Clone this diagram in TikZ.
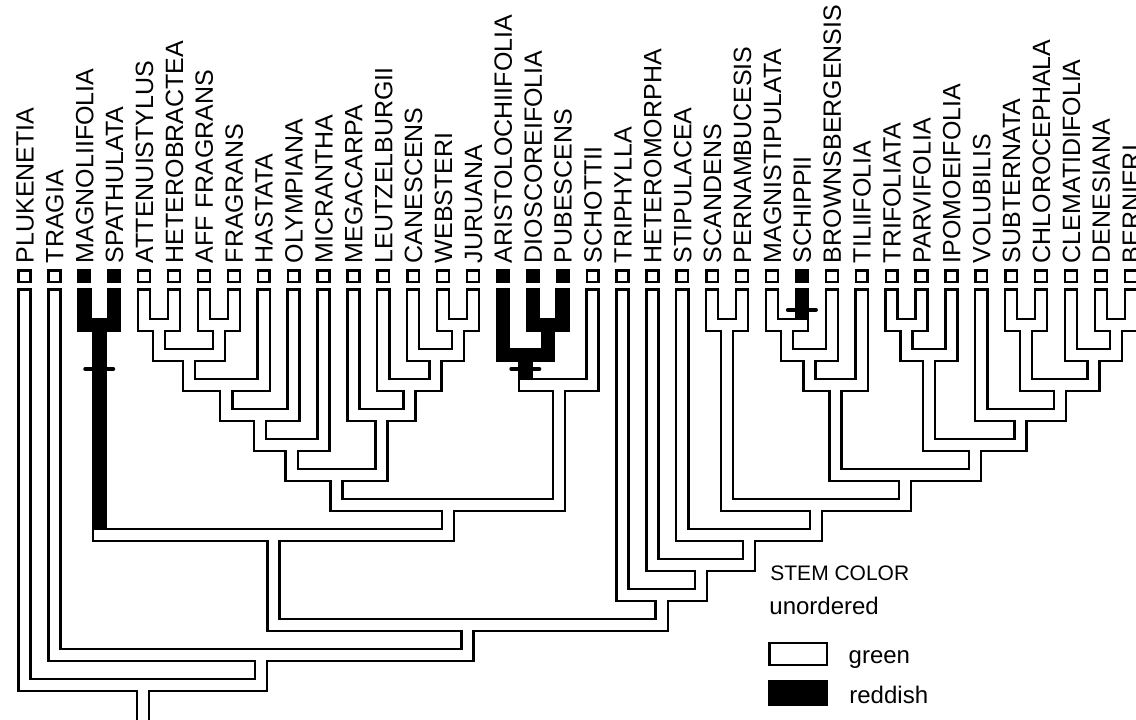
\documentclass[tikz,border=0pt]{standalone}
\usepackage{fontspec}
\setmainfont{Liberation Sans}
\begin{document}
\begin{tikzpicture}[x=0.5pt,y=-0.5pt,
    tube/.style={line width=7.25pt,line cap=rect},
    core/.style={tube,line width=4.85pt,white},
    leafbox/.style={draw,line width=1.2pt,minimum size=5.9pt,inner sep=0pt},
    taxon/.style={rotate=90,anchor=base west,inner sep=0pt,font=\fontsize{12.5}{15}\selectfont},
    change/.style={line width=2pt,line cap=round},
    legend/.style={anchor=base west,inner sep=0pt,font=\fontsize{12}{14}\selectfont}]
  \useasboundingbox (0,0) rectangle (1136,719);
  \foreach \i/\name/\f [evaluate=\i as \x using 24.5+29.9*(\i-1)] in {1/PLUKENETIA/white,
      2/TRAGIA/white, 3/MAGNOLIIFOLIA/black, 4/SPATHULATA/black, 5/ATTENUISTYLUS/white,
      6/HETEROBRACTEA/white, 7/AFF FRAGRANS/white, 8/FRAGRANS/white, 9/HASTATA/white,
      10/OLYMPIANA/white, 11/MICRANTHA/white, 12/MEGACARPA/white, 13/LEUTZELBURGII/white,
      14/CANESCENS/white, 15/WEBSTERI/white, 16/JURUANA/white, 17/ARISTOLOCHIIFOLIA/black,
      18/DIOSCOREIFOLIA/black, 19/PUBESCENS/black, 20/SCHOTTII/white, 21/TRIPHYLLA/white,
      22/HETEROMORPHA/white, 23/STIPULACEA/white, 24/SCANDENS/white, 25/PERNAMBUCESIS/white,
      26/MAGNISTIPULATA/white, 27/SCHIPPII/black, 28/BROWNSBERGENSIS/white, 29/TILIIFOLIA/white,
      30/TRIFOLIATA/white, 31/PARVIFOLIA/white, 32/IPOMOEIFOLIA/white, 33/VOLUBILIS/white,
      34/SUBTERNATA/white, 35/CHLOROCEPHALA/white, 36/CLEMATIDIFOLIA/white,
      37/DENESIANA/white, 38/BERNIERI/white} {
    \coordinate (t\i) at (\x,295.5);
    \node[leafbox,fill=\f] (box\i) at (\x,276.3) {};
    \node[taxon] (lab\i) at (\x+9,263.5) {\name};
  }
  \foreach \n/\x/\y in {n1/159.05/325, n2/218.85/325, n3/188.95/355, n4/226.33/385,
      n5/259.96/415, n6/291.73/445, n7/458.05/325, n8/435.63/355, n9/409.46/385,
      n10/381.43/415, n11/336.58/475, n12/547.75/325, n13/525.33/355, n14/558.96/385,
      n15/447.77/505, n16/99.25/325, n17/273.51/535, n18/727.15/325, n19/786.95/325,
      n20/809.38/355, n21/835.54/385, n22/906.55/325, n23/928.98/355, n24/1026.15/325,
      n25/1115.85/325, n26/1093.43/355, n27/1059.79/385, n28/1020.55/415, n29/974.76/445,
      n30/905.15/475, n31/816.15/505, n32/749.23/535, n33/700.81/565, n34/661.66/595,
      n35/467.58/625, n36/260.99/655, root/142.75/685}
    \coordinate (\n) at (\x,\y);
  \foreach \n/\l/\r in {n1/t5/t6, n2/t7/t8, n3/n1/n2, n4/n3/t9, n5/n4/t10, n6/n5/t11,
      n7/t15/t16, n8/t14/n7, n9/t13/n8, n10/t12/n9, n11/n6/n10, n12/t18/t19, n13/t17/n12,
      n14/n13/t20, n15/n11/n14, n16/t3/t4, n17/n16/n15, n18/t24/t25, n19/t26/t27,
      n20/n19/t28, n21/n20/t29, n22/t30/t31, n23/n22/t32, n24/t34/t35, n25/t37/t38,
      n26/t36/n25, n27/n24/n26, n28/t33/n27, n29/n23/n28, n30/n21/n29, n31/n18/n30,
      n32/t23/n31, n33/t22/n32, n34/t21/n33, n35/n17/n34, n36/t2/n35, root/t1/n36}
    \draw[tube] (\l) |- (\n) -| (\r);
  \draw[tube] (root) -- ++(0,50);
  \foreach \n/\l/\r in {n1/t5/t6, n2/t7/t8, n3/n1/n2, n4/n3/t9, n5/n4/t10, n6/n5/t11,
      n7/t15/t16, n8/t14/n7, n9/t13/n8, n10/t12/n9, n11/n6/n10, n15/n11/n14, n18/t24/t25,
      n20/n19/t28, n21/n20/t29, n22/t30/t31, n23/n22/t32, n24/t34/t35, n25/t37/t38,
      n26/t36/n25, n27/n24/n26, n28/t33/n27, n29/n23/n28, n30/n21/n29, n31/n18/n30,
      n32/t23/n31, n33/t22/n32, n34/t21/n33, n35/n17/n34, n36/t2/n35, root/t1/n36}
    \draw[core] (\l) |- (\n) -| (\r);
  \draw[core] (n16 |- n17) -- (n17) -| (n15);
  \draw[core] (n13 |- n14) -- (n14) -| (t20);
  \draw[core] (t26) |- (n19) -- (t27 |- n19);
  \draw[core] (root) -- ++(0,50);
  \draw[change] (n16) ++(-14,44) -- ++(28,0);
  \draw[change] (n13) ++(-14,14) -- ++(28,0);
  \draw[change] (t27) ++(-14,14.5) -- ++(28,0);
  \node[legend,font=\fontsize{10.5}{12}\selectfont] (title) at (770,580.5) {STEM COLOR};
  \node[legend] (states) at (769,614) {unordered};
  \draw[line width=1.2pt] (769.5,642.9) rectangle (827.1,664.8);
  \fill (768.3,680) rectangle (828.3,706);
  \node[legend] (green) at (848.3,663) {green};
  \node[legend] (reddish) at (849,703) {reddish};
\end{tikzpicture}
\end{document}
